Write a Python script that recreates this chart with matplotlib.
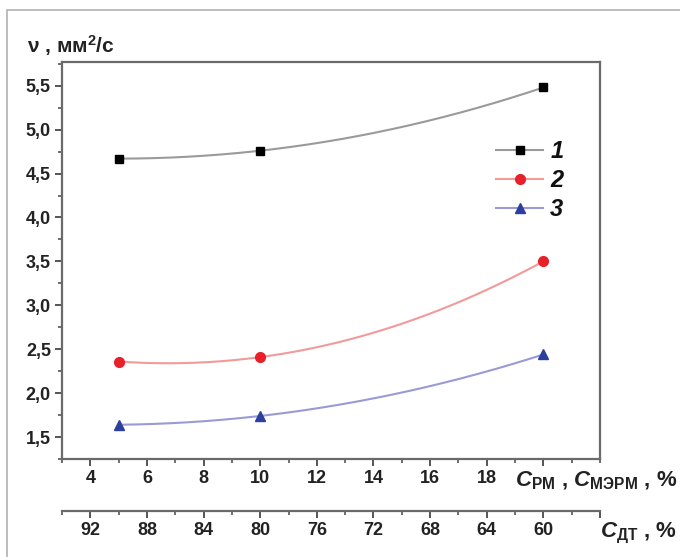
import numpy as np
import matplotlib
matplotlib.use("Agg")
import matplotlib.pyplot as plt
from matplotlib.ticker import FuncFormatter, MultipleLocator, FixedLocator
from matplotlib.patches import Rectangle

plt.rcParams['font.family'] = ['Liberation Sans', 'DejaVu Sans']
plt.rcParams['font.weight'] = 'bold'
plt.rcParams['mathtext.fontset'] = 'custom'
plt.rcParams['mathtext.rm'] = 'Liberation Sans:bold'
plt.rcParams['mathtext.it'] = 'Liberation Sans:italic:bold'
plt.rcParams['mathtext.bf'] = 'Liberation Sans:bold'

# концентрация РМ / МЭРМ, %
c_rm = [5, 10, 20]
# кинематическая вязкость, мм2/с
visc_1 = [4.67, 4.76, 5.48]
visc_2 = [2.36, 2.41, 3.50]
visc_3 = [1.64, 1.74, 2.44]
labels = ['1', '2', '3']

x_ticks = [4, 6, 8, 10, 12, 14, 16, 18, 20]
x_ticklabels = ['4', '6', '8', '10', '12', '14', '16', '18', '']
dt_ticks = [92, 88, 84, 80, 76, 72, 68, 64, 60, 56]
dt_ticklabels = ['92', '88', '84', '80', '76', '72', '68', '64', '60', '']

series = [
    (visc_1, '#9a9a9a', 's', 'black', 6),
    (visc_2, '#f29a9a', 'o', '#e8202a', 7),
    (visc_3, '#9a9ad6', '^', '#2c3f9e', 7),
]

fig = plt.figure(figsize=(6.8, 5.57), dpi=100)
fig.patches.append(Rectangle((7 / 680, -0.1), 1.2, 1 - 10 / 557 + 0.1,
                             transform=fig.transFigure, fill=False,
                             edgecolor='#b0b0b0', linewidth=1.2))

ax = fig.add_axes([62 / 680, 1 - 459 / 557, (600 - 62) / 680, (459 - 62) / 557])

xs = np.array(c_rm, dtype=float)
xx = np.linspace(xs.min(), xs.max(), 200)
handles = []
for (vals, lc, mk, mc, ms), lab in zip(series, labels):
    coef = np.polyfit(xs, vals, 2)
    ax.plot(xx, np.polyval(coef, xx), color=lc, lw=1.5, zorder=2)
    ax.plot(xs, vals, linestyle='none', marker=mk, color=mc, ms=ms, zorder=3)
    h, = ax.plot([], [], color=lc, lw=1.5, marker=mk, mfc=mc, mec=mc, ms=ms)
    handles.append(h)

ax.set_xlim(3, 22)
ax.set_ylim(1.25, 5.77)

for s in ax.spines.values():
    s.set_color('#6a6a6a')
    s.set_linewidth(1.6)

ax.xaxis.set_major_locator(FixedLocator(x_ticks))
ax.set_xticklabels(x_ticklabels)
ax.xaxis.set_minor_locator(MultipleLocator(1))
ax.yaxis.set_major_locator(MultipleLocator(0.5))
ax.yaxis.set_minor_locator(MultipleLocator(0.25))
ax.yaxis.set_major_formatter(FuncFormatter(lambda v, p: f'{v:.1f}'.replace('.', ',')))
ax.tick_params(which='major', direction='out', length=5, width=1.4,
               color='#555555', labelsize=13, pad=3)
ax.tick_params(which='minor', direction='out', length=3, width=1.2, color='#555555')
for t in ax.get_xticklabels() + ax.get_yticklabels():
    t.set_fontweight('bold')
    t.set_color('#222222')

# шкала концентрации ДТ: C_ДТ = 100 - 2 C_РМ
sec = ax.secondary_xaxis(-52 / 397, functions=(lambda x: 100 - 2 * x,
                                               lambda d: (100 - d) / 2))
sec.xaxis.set_major_locator(FixedLocator(dt_ticks))
sec.set_xticklabels(dt_ticklabels)
sec.xaxis.set_minor_locator(MultipleLocator(2))
sec.spines['bottom'].set_color('#6a6a6a')
sec.spines['bottom'].set_linewidth(1.6)
sec.tick_params(which='major', direction='out', length=5, width=1.4,
                color='#555555', labelsize=13, pad=3)
sec.tick_params(which='minor', direction='out', length=3, width=1.2, color='#555555')
for t in sec.get_xticklabels():
    t.set_fontweight('bold')
    t.set_color('#222222')

fig.text(27 / 680, 1 - 53 / 557, r'ν , мм$^{2}$/с', fontsize=15,
         fontweight='bold', color='#222222', ha='left', va='baseline')
fig.text(677 / 680, 1 - 486 / 557, r'$C_{\mathrm{РМ}}$ , $C_{\mathrm{МЭРМ}}$ , %',
         fontsize=16, color='#222222', ha='right', va='baseline')
fig.text(677 / 680, 1 - 537 / 557, r'$C_{\mathrm{ДТ}}$ , %',
         fontsize=16, color='#222222', ha='right', va='baseline')

leg = ax.legend(handles, labels, loc='upper left',
                bbox_to_anchor=(496 / 680, 1 - 140 / 557),
                bbox_transform=fig.transFigure, frameon=False,
                borderpad=0, borderaxespad=0, handlelength=2.0,
                handletextpad=0.3, labelspacing=0.26,
                prop={'size': 17, 'weight': 'bold', 'style': 'italic'})
for t in leg.get_texts():
    t.set_color('#111111')

fig.savefig('out.png', dpi=100)
